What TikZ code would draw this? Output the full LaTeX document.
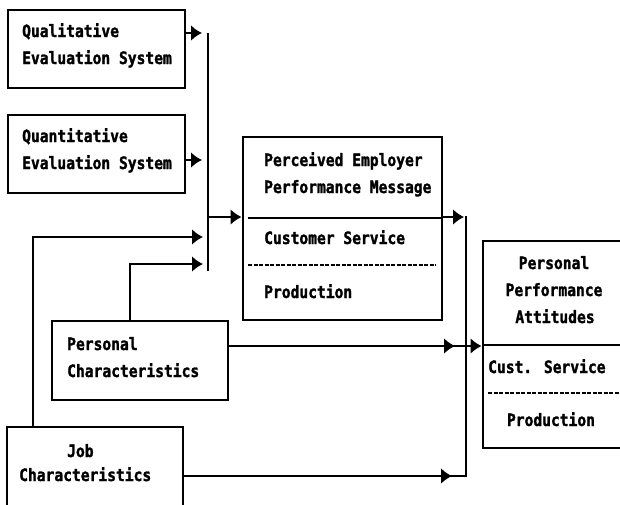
\documentclass[tikz,border=0pt]{standalone}
\usepackage{fontspec}
\usetikzlibrary{arrows.meta}
\newfontfamily\dotfont{DejaVu Sans Mono}[FakeStretch=0.86, BoldFeatures={FakeBold=1.6}]

\tikzset{
  box/.style={draw, rectangle, line width=2.9pt, inner sep=0pt},
  lbl/.style={anchor=base west, inner sep=0pt,
    font=\dotfont\bfseries\fontsize{17}{20}\selectfont},
  clbl/.style={lbl, anchor=base},
  wire/.style={line width=2.8pt},
  arr/.style={wire, -{Latex[length=11pt,width=16pt]}},
  rule/.style={line width=2.5pt},
  dashrule/.style={line width=2.1pt, dash pattern=on 4pt off 1.5pt},
}

\begin{document}
\begin{tikzpicture}[x=1pt, y=-1pt]
  \useasboundingbox (0,0) rectangle (620,504);
  \fill[white] (0,0) rectangle (620,504);
  \clip (0,0) rectangle (620,504);

  % boxes
  \node[box, minimum width=177pt, minimum height=78pt] (qual) at (96.5,49) {};
  \node[box, minimum width=177pt, minimum height=78pt] (quant) at (96.5,154) {};
  \node[box, minimum width=199pt, minimum height=183pt] (perc) at (342.5,228.5) {};
  \node[box, minimum width=160pt, minimum height=207pt] (att) at (563,344.5) {};
  \node[box, minimum width=176pt, minimum height=79pt] (pc) at (140,360.5) {};
  \node[box, minimum width=176pt, minimum height=82pt] (job) at (95,468) {};

  % texts
  \node[lbl] (t1) at (22,37) {Qualitative};
  \node[lbl] (t2) at (22,64) {Evaluation System};
  \node[lbl] (t3) at (22,142) {Quantitative};
  \node[lbl] (t4) at (22,169) {Evaluation System};
  \node[lbl] (t5) at (264,166) {Perceived Employer};
  \node[lbl] (t6) at (264,193) {Performance Message};
  \node[lbl] (t7) at (264,244) {Customer Service};
  \node[lbl] (t8) at (264,298) {Production};
  \node[clbl] (t9) at (554,269) {Personal};
  \node[clbl] (t10) at (554,296) {Performance};
  \node[clbl] (t11) at (555,323) {Attitudes};
  \node[lbl] (t12) at (488,373) {Cust. Service};
  \node[clbl] (t13) at (551,426) {Production};
  \node[lbl] (t14) at (67,350) {Personal};
  \node[lbl] (t15) at (67,377) {Characteristics};
  \node[lbl] (t16) at (67,457) {Job};
  \node[lbl] (t17) at (19,481) {Characteristics};

  % dividers inside boxes
  \draw[rule] (248,218) -- (perc.east |- 0,218);
  \draw[dashrule] (248,265) -- (436,265);
  \draw[rule] (att.west |- 0,345) -- (620,345);
  \draw[dashrule] (488,393) -- (620,393);

  % left collector
  \coordinate (btop) at (208,33);
  \coordinate (bbot) at (208,271);
  \coordinate (bmid) at (208,217);
  \coordinate (qa) at (202,33);
  \coordinate (qb) at (202,160);
  \coordinate (jc) at (33,237);
  \coordinate (jt) at (203,237);
  \coordinate (pcc) at (130,264);
  \coordinate (pct) at (203,264);

  \draw[arr] (qual.east |- qa) -- (qa);
  \draw[arr] (quant.east |- qb) -- (qb);
  \draw[wire] (btop) -- (bbot);
  \draw[arr] (bmid) -- (perc.west |- bmid);
  \draw[arr] (job.north -| jc) -- (jc) -- (jt);
  \draw[arr] (pc.north -| pcc) -- (pcc) -- (pct);

  % right collector
  \coordinate (rtop) at (466,216);
  \coordinate (rbot) at (466,476);
  \coordinate (rin) at (466,346);
  \coordinate (pctip) at (455,346);
  \coordinate (jtip) at (452,476);

  \draw[arr] (perc.east |- 0,217) -- (464,217);
  \draw[wire] (rtop) -- (rbot) -- (448,476);
  \draw[arr] (job.east |- jtip) -- (jtip);
  \draw[arr] (pc.east |- pctip) -- (pctip);
  \draw[wire] (450,346) -- (rin);
  \draw[arr] (rin) -- (att.west |- rin);
\end{tikzpicture}
\end{document}
